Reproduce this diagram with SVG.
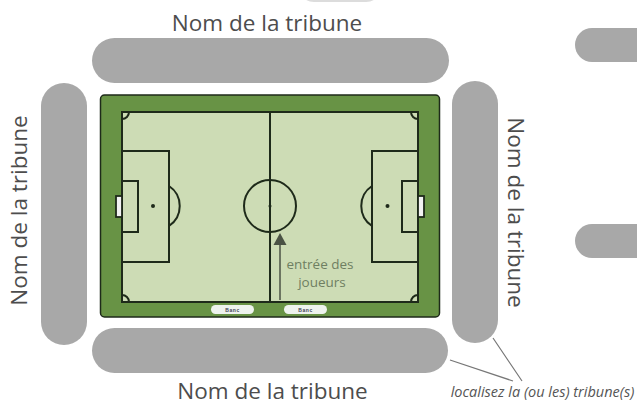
<svg xmlns="http://www.w3.org/2000/svg" width="637" height="403" viewBox="0 0 637 403">
<style>
.stand{fill:#a8a8a8}
.line{fill:none;stroke:#1e2a1a;stroke-width:2}
.goal{fill:#f2f2f2;stroke:#1e2a1a;stroke-width:1.800}
.spot{fill:#1e2a1a}
.lbl{font-family:"Open Sans","Noto Sans",sans-serif;fill:#4d4d4d;font-size:22.500px;text-anchor:middle}
.note{font-family:"Open Sans","Noto Sans",sans-serif;font-size:13.500px;fill:#6f7f62;text-anchor:middle}
.bench{fill:#eef3ee}
.bt{font-family:"Liberation Sans",sans-serif;font-size:5px;font-weight:bold;letter-spacing:.6px;fill:#445;text-anchor:middle}
</style>
<rect width="637" height="403" fill="#fff"/>
<rect x="298" y="-30" width="84" height="32" rx="16" fill="#dcdcdc"/>
<g id="stand-top"><rect class="stand" x="92" y="38" width="357" height="45" rx="22.500"/></g>
<g id="stand-left"><rect class="stand" x="41" y="83" width="46" height="262" rx="23"/></g>
<g id="stand-right"><rect class="stand" x="452" y="81" width="46" height="262" rx="23"/></g>
<g id="stand-bottom"><rect class="stand" x="92" y="328" width="356" height="45" rx="22.500"/></g>
<g id="stub-1"><path class="stand" d="M637 28H592a17 17 0 0 0 0 34H637Z"/></g>
<g id="stub-2"><path class="stand" d="M637 224H592a17 17 0 0 0 0 34H637Z"/></g>
<g id="field">
<rect x="100.500" y="95" width="339" height="222" rx="4" fill="#689345" stroke="#1e2a1a" stroke-width="1.500"/>
<rect class="line" x="122" y="112" width="296" height="190" style="fill:#cddcb5"/>
<path class="line" d="M270 112V302"/>
<circle class="line" cx="270" cy="206" r="26"/>
<circle class="spot" cx="270" cy="206" r="1.500"/>
<rect class="line" x="122" y="151" width="47" height="111"/>
<rect class="line" x="122" y="181" width="16" height="51"/>
<rect class="goal" x="116" y="196" width="6" height="21"/>
<circle class="spot" cx="153" cy="206" r="2"/>
<path class="line" d="M169 186A24 24 0 0 1 169 226"/>
<rect class="line" x="372" y="151" width="46" height="111"/>
<rect class="line" x="402" y="181" width="16" height="51"/>
<rect class="goal" x="418" y="196" width="6" height="21"/>
<circle class="spot" cx="387.500" cy="206" r="2"/>
<path class="line" d="M372 186A24 24 0 0 0 372 226"/>
<path class="line" d="M122 119A7 7 0 0 0 129 112M411 112A7 7 0 0 0 418 119M122 295A7 7 0 0 1 129 302M418 295A7 7 0 0 0 411 302"/>
</g>
<g id="bench-1"><rect class="bench" x="211" y="305" width="43" height="9" rx="4.500"/><text class="bt" x="232.500" y="311.500">Banc</text></g>
<g id="bench-2"><rect class="bench" x="284" y="305" width="43" height="9" rx="4.500"/><text class="bt" x="305.500" y="311.500">Banc</text></g>
<g id="connectors" fill="none">
<path d="M280 300V244" stroke="#4a5244" stroke-width="1.500"/>
<path d="M280 233L286.500 245H273.500Z" fill="#4a5244"/>
<path d="M450 360L513 381M493 338L522 381" stroke="#777" stroke-width="1.200"/>
</g>
<text class="lbl" x="267" y="31">Nom de la tribune</text>
<text class="lbl" x="272.500" y="399">Nom de la tribune</text>
<text class="lbl" transform="translate(27 210.500) rotate(-90)">Nom de la tribune</text>
<text class="lbl" transform="translate(508 212.500) rotate(90)">Nom de la tribune</text>
<text class="note" x="320" y="269">entrée des</text>
<text class="note" x="322" y="287">joueurs</text>
<text style="font-family:'Open Sans','Noto Sans',sans-serif;font-size:14.500px;font-style:italic;fill:#555;text-anchor:middle" x="542.500" y="397">localisez la (ou les) tribune(s)</text>
</svg>
